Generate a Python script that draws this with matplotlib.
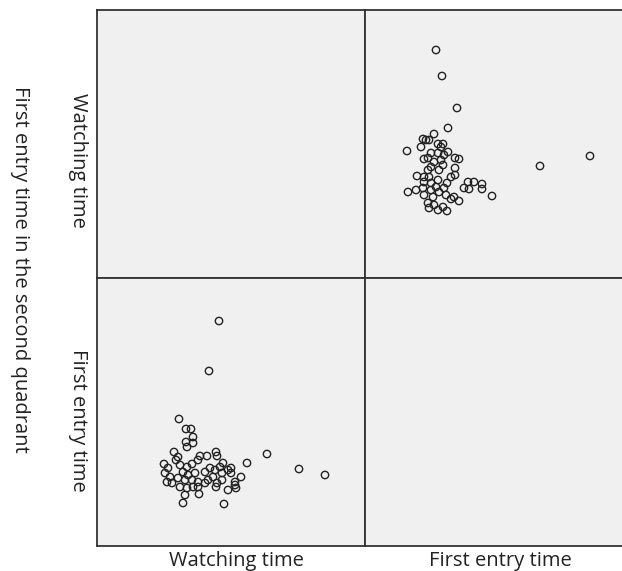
import matplotlib
matplotlib.use('Agg')
from matplotlib import pyplot as plt

# one record per subject: watching time and first entry time (s)
watching_time = [30.5, 28, 20.5, 22.25, 23.5, 24, 22.25, 24, 22.5, 42.5,
                 37.5, 50.5, 57, 33.5, 33.5, 36, 34.5, 34.5, 32.75, 31.75,
                 21.5, 22, 25.5, 29.75, 19.25, 20.25, 19.75, 25.75, 25.25, 27.5,
                 29.75, 30, 16.75, 17.75, 17, 18.25, 17.5, 18.75, 20.75, 22.5,
                 23.75, 21.5, 22.75, 24.5, 20.25, 22, 23.75, 25.25, 20.75, 22.5,
                 24, 25.25, 27, 28.25, 29.5, 30.75, 31.5, 31.25, 29, 27.75,
                 27, 30, 31.25, 32.75, 34.75]
first_entry_time = [56.25, 43.75, 31.75, 29.25, 29.25, 27.25, 26, 25.75, 24.75, 23,
                    20.75, 19.25, 17.75, 19.5, 18.25, 17.25, 16, 15.25, 14, 10.5,
                    10.75, 12.75, 13, 14.75, 23.5, 22.25, 21.5, 22.5, 21.5, 22.5,
                    23.5, 22.5, 20.5, 19.5, 18.25, 17.25, 16, 15.75, 20.25, 19.75,
                    20.5, 18.5, 17.75, 18.25, 17, 16.5, 16.5, 16, 14.75, 14.5,
                    14.75, 14.75, 18.5, 19.5, 19, 19.75, 20.75, 18.25, 17.25, 16.5,
                    15.75, 15.75, 16.5, 19, 14.5]

names = ['Watching time', 'First entry time']
cols = [watching_time, first_entry_time]
outer_label = 'First entry time in the second quadrant'

plt.rcParams['font.family'] = ['Open Sans', 'DejaVu Sans']
fig = plt.figure(figsize=(6.22, 5.71), dpi=100)

W, H = 622, 571
left = 97 / W
w = 268 / W
bottom = 25 / H
h = 268 / H
fs = 14.5
tcol = '#222222'

for i in range(2):        # row (0 = top)
    for j in range(2):    # column
        ax = fig.add_axes([left + j * w, bottom + (1 - i) * h, w, h])
        ax.set_facecolor('#f0f0f0')
        ax.set_xlim(0, 67)
        ax.set_ylim(0, 67)
        ax.set_xticks([])
        ax.set_yticks([])
        for s in ax.spines.values():
            s.set_color('#333333')
            s.set_linewidth(1.3)
        if i != j:
            ax.scatter(cols[j], cols[i], s=28, facecolors='none',
                       edgecolors='#222222', linewidths=1.0)

# column labels under the grid
for x, name in zip([236, 500], names):
    fig.text(x / W, 1 - 566 / H, name, fontsize=fs, color=tcol,
             ha='center', va='baseline')

# row labels, read top to bottom
for y, name in zip([160, 420], names):
    fig.text(78 / W, 1 - y / H, name, fontsize=fs, color=tcol,
             rotation=270, ha='center', va='center')

fig.text(20 / W, 1 - 269 / H, outer_label, rotation=270, fontsize=fs,
         color=tcol, ha='center', va='center')

plt.savefig('out.png', dpi=100)
